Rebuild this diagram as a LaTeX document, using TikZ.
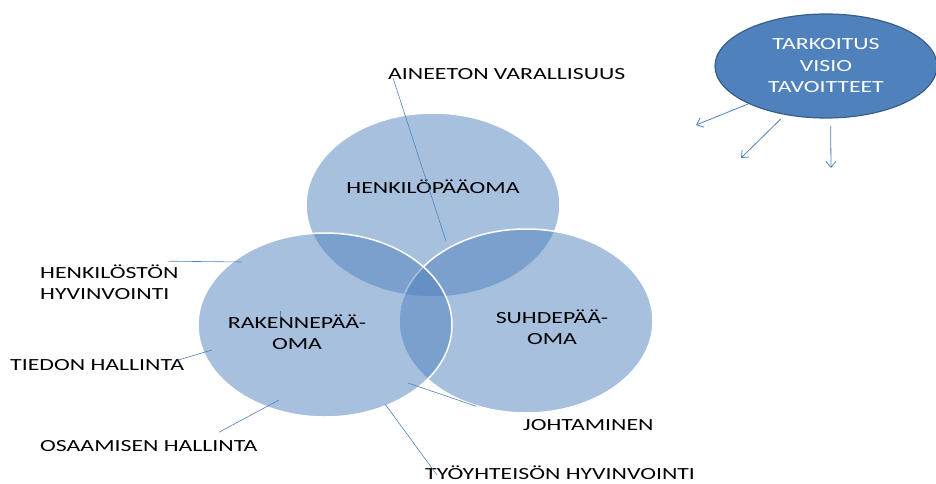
\documentclass[tikz,border=0pt]{standalone}
\usepackage{fontspec}
\setmainfont{Carlito}[FakeStretch=1.4]
\usetikzlibrary{arrows.meta,positioning,calc,shapes.geometric}
\definecolor{vennblue}{HTML}{4F81BD}
\definecolor{vennedge}{HTML}{385D8A}

\begin{document}
\begin{tikzpicture}[
                x=1pt, y=-1pt,
                font=\fontsize{17}{21.5}\selectfont,
                venn/.style={ellipse, fill=vennblue, fill opacity=0.5, draw=white, line width=1.5pt, minimum width=254pt, minimum height=184pt},
                vtext/.style={align=center, inner sep=0pt},
                lbl/.style={inner sep=0pt, align=left, anchor=west},
                leader/.style={draw=vennblue, line width=0.6pt},
                goal/.style={ellipse, fill=vennblue, draw=vennedge, line width=1.2pt, minimum width=222pt, minimum height=104pt, text=white, align=center},
                arr/.style={-{Straight Barb[length=6pt,width=10pt]}, draw=vennblue, line width=0.8pt},
            ]
            \useasboundingbox (0,0) rectangle (936,484);

            % ----- Venn (three capitals) -----
            \node[venn] (henk) at (433,205) {};
            \node[venn] (suhde) at (526,321) {};
            \node[venn] (rak) at (325,325) {};

            \node[vtext] (henkt) at (433,187) {HENKILÖPÄÄOMA};
            \node[vtext] (rakt) at (297,332) {RAKENNEPÄÄ-\\OMA};
            \node[vtext] (suhdet) at (552,327) {SUHDEPÄÄ-\\OMA};

            % ----- Labels round it -----
            \node[lbl] (aineeton) at (388,74) {AINEETON VARALLISUUS};
            \node[lbl] (henkilosto) at (40,282) {HENKILÖSTÖN\\HYVINVOINTI};
            \node[lbl] (tiedon) at (10,365) {TIEDON HALLINTA};
            \node[lbl] (osaaminen) at (40,446) {OSAAMISEN HALLINTA};
            \node[lbl] (johtaminen) at (523,425) {JOHTAMINEN};
            \node[lbl] (tyoyht) at (425,473) {TYÖYHTEISÖN HYVINVOINTI};

            % inner ends of the leaders
            \coordinate (aineeton-in) at (446,241);
            \coordinate (henkilosto-in) at (242,262);
            \coordinate (tiedon-in) at (212,350);
            \coordinate (osaaminen-in) at (279,400);
            \coordinate (johtaminen-in) at (408,383);
            \coordinate (tyoyht-in) at (385,404);

            % leaders
            \draw[leader] ($(aineeton.west)+(5,4)$) -- (aineeton-in);
            \draw[leader] ($(henkilosto.north east)+(-11,-3)$) -- (henkilosto-in);
            \draw[leader] ($(tiedon.east)+(-6,-5)$) -- (tiedon-in);
            \draw[leader] ($(osaaminen.north west)+(179,-8)$) -- (osaaminen-in);
            \draw[leader] ($(johtaminen.north west)+(-47,-13)$) -- (johtaminen-in);
            \draw[leader] ($(tyoyht.west)+(12,2)$) -- (tyoyht-in);
            \draw[leader] ($(rak.center)+(-45,-14)$) -- ++(0,6);

            % ----- Purpose / vision / goals -----
            \node[goal] (goal) at (826,66) {TARKOITUS\\VISIO\\TAVOITTEET};
            \coordinate (g1) at (696,125);
            \coordinate (g2) at (741,158);
            \coordinate (g3) at (831,168);
            \draw[arr] (goal.206) -- (g1);
            \draw[arr, shorten <=6pt] (goal.230) -- (g2);
            \draw[arr, shorten <=7pt] (goal.275) -- (g3);
\end{tikzpicture}
\end{document}
